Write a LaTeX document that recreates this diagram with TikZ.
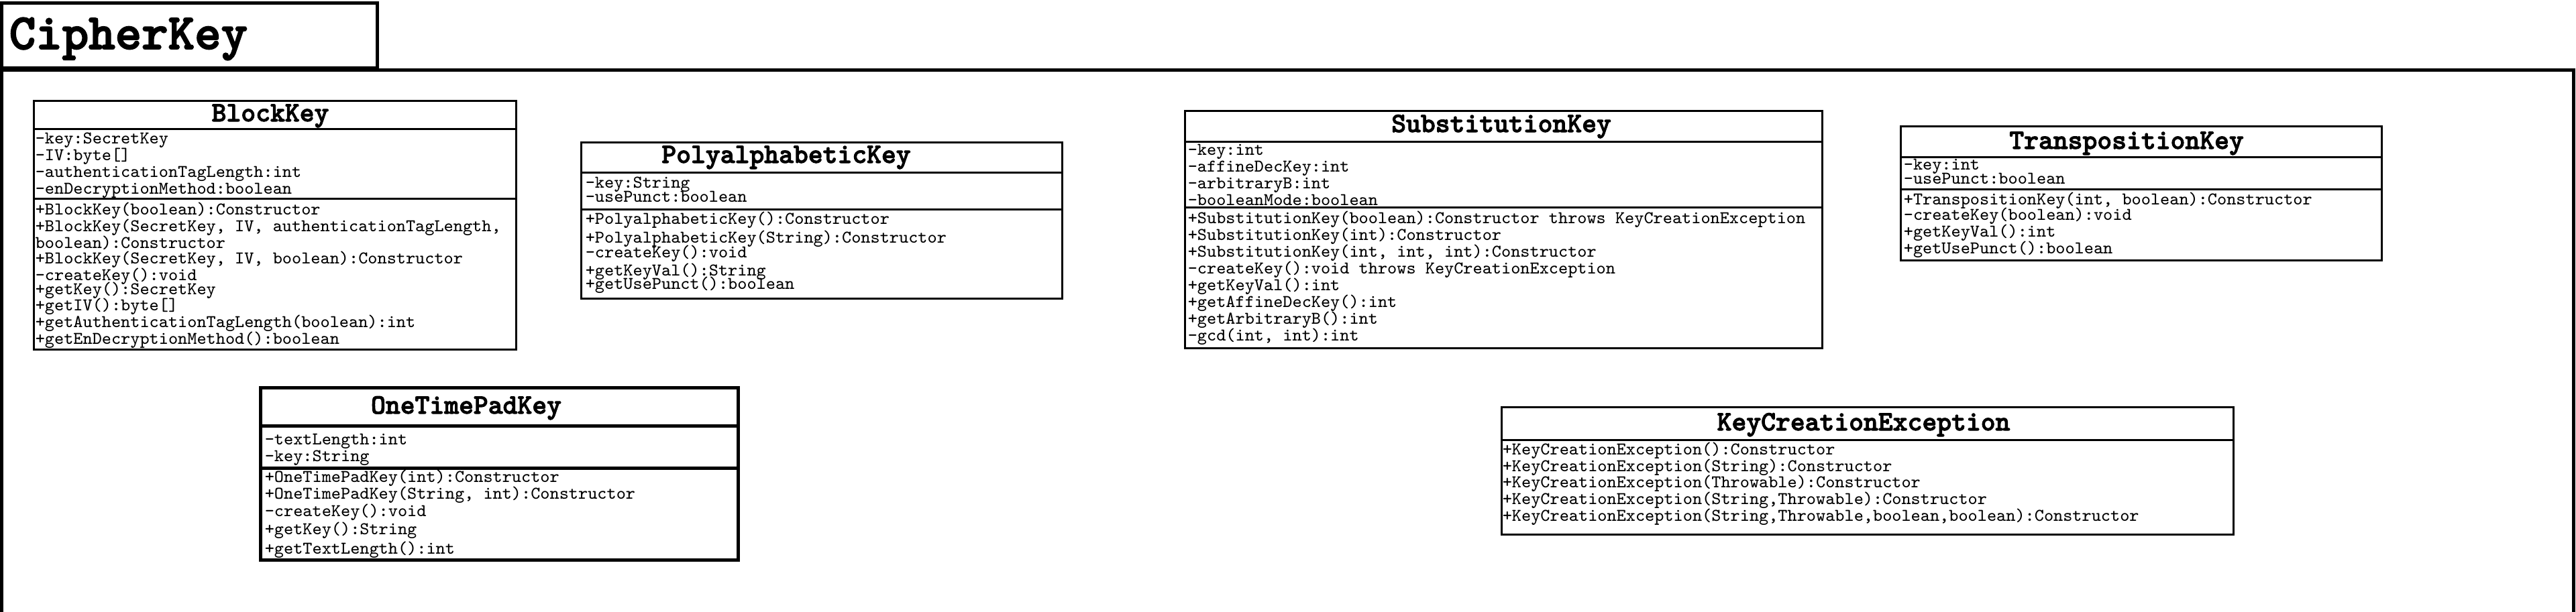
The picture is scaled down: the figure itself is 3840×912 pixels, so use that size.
\documentclass[tikz,border=0pt]{standalone}
\usepackage{fontspec}
\newfontfamily\umlboldfamily{lmmonolt10-bold.otf}[FakeBold=2.5]
\newcommand\umlbody{\ttfamily\fontsize{6.667}{8}\selectfont}
\newcommand\umltitle{\umlboldfamily\fontsize{10.4}{12}\selectfont}
\newcommand\umlpkg{\umlboldfamily\fontsize{18.8}{22}\selectfont}
\tikzset{
  pkgline/.style={line width=1.25pt},
  cls/.style={draw, line width=0.75pt},
  clsthick/.style={draw, line width=1.25pt},
  txt/.style={anchor=base west, inner sep=0pt, font=\umlbody},
  ttl/.style={anchor=base, inner sep=0pt, font=\umltitle},
}
\begin{document}
\begin{tikzpicture}[x=0.25pt, y=-0.25pt]
\useasboundingbox (0,0) rectangle (3840,912);
\clip (0,0) rectangle (3840,912);
% package frame
\draw[pkgline] (2,101) -- (2,4.5) -- (562.5,4.5) -- (562.5,101) -- cycle;
\draw[pkgline] (2,1000) -- (2,104.5) -- (3836,104.5) -- (3836,1000);
\node[anchor=base west, inner sep=0pt, font=\umlpkg] (pkg) at (13,73) {CipherKey};

% BlockKey
\draw[cls] (50,150) rectangle (769,521);
\draw[cls] (50,192) -- (769,192);
\draw[cls] (50,296) -- (769,296);
\node[ttl] (bkt) at (403,181) {BlockKey};
\node[txt] (bka1) at (52,214) {-key:SecretKey};
\node[txt] (bka2) at (52,239) {-IV:byte[]};
\node[txt] (bka3) at (52,264) {-authenticationTagLength:int};
\node[txt] (bka4) at (52,289) {-enDecryptionMethod:boolean};
\node[txt] (bkm1) at (52,320) {+BlockKey(boolean):Constructor};
\node[txt] (bkm2) at (52,345) {+BlockKey(SecretKey, IV, authenticationTagLength,};
\node[txt] (bkm3) at (52,370) {boolean):Constructor};
\node[txt] (bkm4) at (52,393) {+BlockKey(SecretKey, IV, boolean):Constructor};
\node[txt] (bkm5) at (52,418) {-createKey():void};
\node[txt] (bkm6) at (52,439) {+getKey():SecretKey};
\node[txt] (bkm7) at (52,463) {+getIV():byte[]};
\node[txt] (bkm8) at (52,488) {+getAuthenticationTagLength(boolean):int};
\node[txt] (bkm9) at (52,513) {+getEnDecryptionMethod():boolean};

% PolyalphabeticKey
\draw[cls] (866,212) rectangle (1583,445);
\draw[cls] (866,257) -- (1583,257);
\draw[cls] (866,312) -- (1583,312);
\node[ttl] (pkt) at (1172,243) {PolyalphabeticKey};
\node[txt] (pka1) at (872,280) {-key:String};
\node[txt] (pka2) at (872,301) {-usePunct:boolean};
\node[txt] (pkm1) at (872,334) {+PolyalphabeticKey():Constructor};
\node[txt] (pkm2) at (872,362) {+PolyalphabeticKey(String):Constructor};
\node[txt] (pkm3) at (872,384) {-createKey():void};
\node[txt] (pkm4) at (872,411) {+getKeyVal():String};
\node[txt] (pkm5) at (872,431) {+getUsePunct():boolean};

% SubstitutionKey
\draw[cls] (1766,165) rectangle (2716,519);
\draw[cls] (1766,211) -- (2716,211);
\draw[cls] (1766,309) -- (2716,309);
\node[ttl] (skt) at (2238,197) {SubstitutionKey};
\node[txt] (ska1) at (1770,231) {-key:int};
\node[txt] (ska2) at (1770,256) {-affineDecKey:int};
\node[txt] (ska3) at (1770,281) {-arbitraryB:int};
\node[txt] (ska4) at (1770,306) {-booleanMode:boolean};
\node[txt] (skm1) at (1770,333) {+SubstitutionKey(boolean):Constructor throws KeyCreationException};
\node[txt] (skm2) at (1770,358) {+SubstitutionKey(int):Constructor};
\node[txt] (skm3) at (1770,383) {+SubstitutionKey(int, int, int):Constructor};
\node[txt] (skm4) at (1770,408) {-createKey():void throws KeyCreationException};
\node[txt] (skm5) at (1770,433) {+getKeyVal():int};
\node[txt] (skm6) at (1770,458) {+getAffineDecKey():int};
\node[txt] (skm7) at (1770,483) {+getArbitraryB():int};
\node[txt] (skm8) at (1770,508) {-gcd(int, int):int};

% TranspositionKey
\draw[cls] (2833,188) rectangle (3550,388);
\draw[cls] (2833,234) -- (3550,234);
\draw[cls] (2833,282) -- (3550,282);
\node[ttl] (tkt) at (3170,222) {TranspositionKey};
\node[txt] (tka1) at (2837,253) {-key:int};
\node[txt] (tka2) at (2837,274) {-usePunct:boolean};
\node[txt] (tkm1) at (2837,305) {+TranspositionKey(int, boolean):Constructor};
\node[txt] (tkm2) at (2837,328) {-createKey(boolean):void};
\node[txt] (tkm3) at (2837,353) {+getKeyVal():int};
\node[txt] (tkm4) at (2837,378) {+getUsePunct():boolean};

% OneTimePadKey
\draw[clsthick] (388,578.5) rectangle (1100,835.5);
\draw[clsthick] (388,635) -- (1100,635);
\draw[clsthick] (388,698.5) -- (1100,698.5);
\node[ttl] (ott) at (695,617) {OneTimePadKey};
\node[txt] (ota1) at (394,663) {-textLength:int};
\node[txt] (ota2) at (394,688) {-key:String};
\node[txt] (otm1) at (394,719) {+OneTimePadKey(int):Constructor};
\node[txt] (otm2) at (394,744) {+OneTimePadKey(String, int):Constructor};
\node[txt] (otm3) at (394,770) {-createKey():void};
\node[txt] (otm4) at (394,797) {+getKey():String};
\node[txt] (otm5) at (394,826) {+getTextLength():int};

% KeyCreationException
\draw[cls] (2238,607) rectangle (3329,797);
\draw[cls] (2238,656) -- (3329,656);
\node[ttl] (kct) at (2778,642) {KeyCreationException};
\node[txt] (kcm1) at (2239,678) {+KeyCreationException():Constructor};
\node[txt] (kcm2) at (2239,703) {+KeyCreationException(String):Constructor};
\node[txt] (kcm3) at (2239,727) {+KeyCreationException(Throwable):Constructor};
\node[txt] (kcm4) at (2239,752) {+KeyCreationException(String,Throwable):Constructor};
\node[txt] (kcm5) at (2239,777) {+KeyCreationException(String,Throwable,boolean,boolean):Constructor};
\end{tikzpicture}
\end{document}
